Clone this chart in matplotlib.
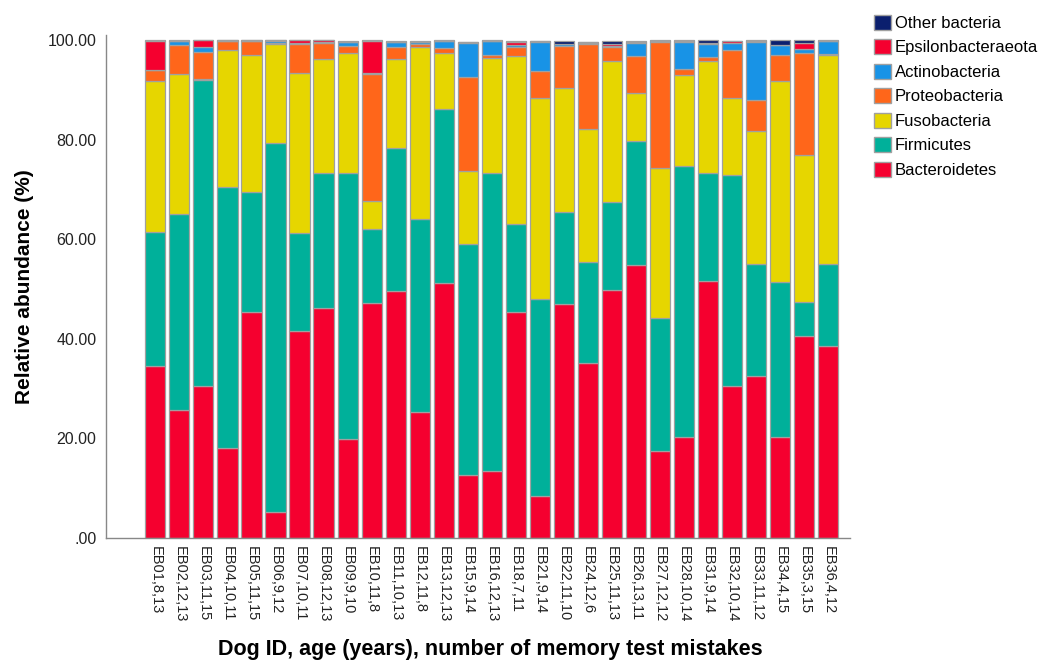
import matplotlib
matplotlib.use("Agg")
import matplotlib.pyplot as plt
from matplotlib.patches import Patch
import numpy as np

plt.rcParams['font.family'] = ['Liberation Sans', 'DejaVu Sans']

labels = ["EB01,8,13", "EB02,12,13", "EB03,11,15", "EB04,10,11", "EB05,11,15", "EB06,9,12",
          "EB07,10,11", "EB08,12,13", "EB09,9,10", "EB10,11,8", "EB11,10,13", "EB12,11,8",
          "EB13,12,13", "EB15,9,14", "EB16,12,13", "EB18,7,11", "EB21,9,14", "EB22,11,10",
          "EB24,12,6", "EB25,11,13", "EB26,13,11", "EB27,12,12", "EB28,10,14", "EB31,9,14",
          "EB32,10,14", "EB33,11,12", "EB34,4,15", "EB35,3,15", "EB36,4,12"]

bacteroidetes = [34.6, 25.8, 30.5, 18.0, 45.3, 5.2, 41.6, 46.2, 19.8, 47.2, 49.7, 25.4, 51.3, 12.6, 13.4,
                 45.4, 8.5, 47.0, 35.1, 49.8, 54.9, 17.4, 20.3, 51.7, 30.5, 32.6, 20.3, 40.6, 38.6]
firmicutes = [26.9, 39.2, 61.4, 52.5, 24.2, 74.1, 19.7, 27.1, 53.6, 14.9, 28.6, 38.6, 34.8, 46.5, 59.9,
              17.6, 39.6, 18.4, 20.4, 17.6, 24.8, 26.8, 54.4, 21.7, 42.5, 22.4, 31.2, 6.9, 16.4]
fusobacteria = [30.2, 28.3, 0.3, 27.5, 27.5, 20.0, 32.1, 23.0, 24.0, 5.6, 17.9, 34.7, 11.3, 14.7, 23.1,
                33.8, 40.3, 24.9, 26.7, 28.4, 9.6, 30.1, 18.3, 22.4, 15.3, 26.7, 40.2, 29.5, 42.0]
proteobacteria = [2.4, 5.7, 5.4, 1.8, 2.8, 0.1, 5.9, 3.2, 1.4, 25.6, 2.5, 0.6, 1.1, 18.8, 0.6,
                  1.9, 5.4, 8.6, 17.0, 2.9, 7.5, 25.4, 1.2, 0.8, 9.7, 6.2, 5.4, 20.5, 0.3]
actinobacteria = [0.0, 0.8, 1.0, 0.1, 0.1, 0.5, 0.2, 0.1, 0.8, 0.1, 0.9, 0.3, 1.3, 6.9, 2.8,
                  0.3, 5.9, 0.3, 0.3, 0.2, 2.6, 0.1, 5.5, 2.7, 1.5, 11.8, 1.9, 0.7, 2.5]
epsilonbacteraeota = [5.8, 0.1, 1.4, 0.1, 0.1, 0.1, 0.5, 0.4, 0.1, 6.5, 0.1, 0.1, 0.1, 0.1, 0.1,
                      0.7, 0.1, 0.1, 0.1, 0.4, 0.3, 0.1, 0.2, 0.1, 0.3, 0.2, 0.1, 1.2, 0.1]
other_bacteria = [0.1, 0.1, 0.1, 0.1, 0.1, 0.1, 0.1, 0.1, 0.1, 0.1, 0.1, 0.1, 0.1, 0.1, 0.1,
                  0.1, 0.1, 0.6, 0.1, 0.5, 0.1, 0.1, 0.1, 0.7, 0.1, 0.1, 1.0, 0.6, 0.1]

series_names = ["Bacteroidetes", "Firmicutes", "Fusobacteria", "Proteobacteria",
                "Actinobacteria", "Epsilonbacteraeota", "Other bacteria"]
series = [bacteroidetes, firmicutes, fusobacteria, proteobacteria,
          actinobacteria, epsilonbacteraeota, other_bacteria]
colors = ["#F5002F", "#00B09A", "#E6D600", "#FF661A", "#1893E6", "#F5002F", "#0B1F6E"]

fig = plt.figure(figsize=(10.52, 6.64), dpi=100)
ax = fig.add_axes([0.1008, 0.1898, 0.7072, 0.7572])

x = np.arange(len(labels))
bottom = np.zeros(len(labels))
for name, vals, c in zip(series_names, series, colors):
    v = np.array(vals)
    ax.bar(x, v, bottom=bottom, width=0.84, color=c, edgecolor="#A0A0A0", linewidth=0.9, label=name)
    bottom += v

ax.set_xlim(-2.05, 28.9)
ax.set_ylim(0, 101)
ax.set_yticks([0, 20, 40, 60, 80, 100])
ax.set_yticklabels([".00", "20.00", "40.00", "60.00", "80.00", "100.00"], fontsize=11.5, color="#222222")
ax.set_xticks(x)
ax.set_xticklabels(labels, rotation=-90, fontsize=10.5, color="#222222", va="top")
ax.tick_params(axis="y", length=0, pad=7)
ax.tick_params(axis="x", length=0, pad=6)

for s in ["top", "right"]:
    ax.spines[s].set_visible(False)
for s in ["left", "bottom"]:
    ax.spines[s].set_color("#888888")
    ax.spines[s].set_linewidth(1.0)

ax.set_ylabel("Relative abundance (%)", fontsize=15, fontweight="bold", labelpad=10)
fig.text(0.466, 0.006, "Dog ID, age (years), number of memory test mistakes",
         ha="center", va="bottom", fontsize=15.5, fontweight="bold")

handles = [Patch(facecolor=c, edgecolor="#A0A0A0", label=n) for n, c in zip(series_names, colors)]
leg = fig.legend(handles[::-1], series_names[::-1], loc="upper left",
                 bbox_to_anchor=(0.831, 0.978), frameon=False, fontsize=12,
                 handlelength=1.0, handleheight=1.0, handletextpad=0.25, labelspacing=0.5,
                 borderaxespad=0, borderpad=0)

fig.savefig("out.png", dpi=100)
